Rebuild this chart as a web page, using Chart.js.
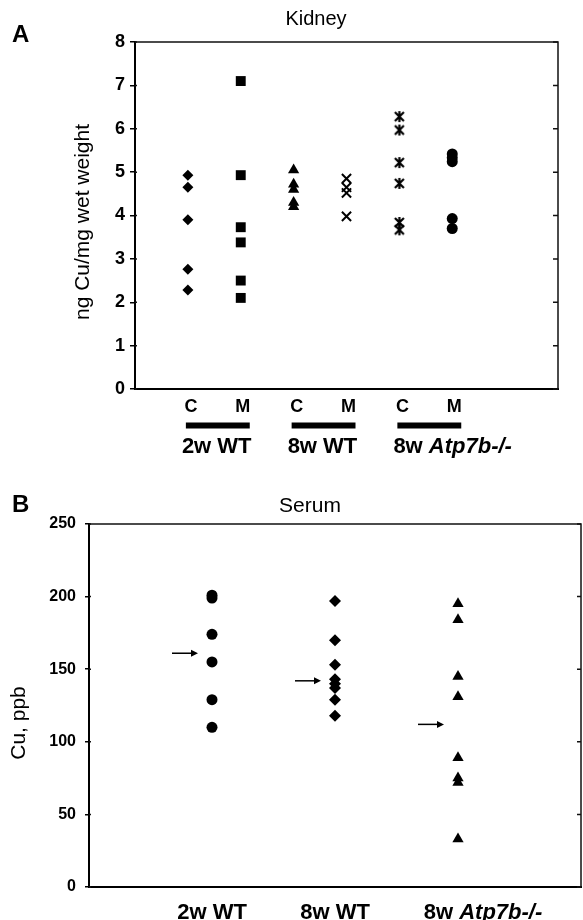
<!DOCTYPE html>
<html>
<head>
<meta charset="utf-8">
<script src="https://cdn.jsdelivr.net/npm/chart.js@4.4.0/dist/chart.umd.min.js"></script>
<style>
  html, body { margin: 0; padding: 0; background: #fff; }
  #wrap { position: relative; width: 583px; height: 920px; }
  canvas { position: absolute; left: 0; }
  #kidney { top: 0; }
  #serum { top: 470px; }
</style>
</head>
<body>
<div id="wrap">
  <canvas id="kidney" width="583" height="470"></canvas>
  <canvas id="serum" width="583" height="450"></canvas>
</div>
<script>
// === Data ===
// Panel A - kidney, ng Cu / mg wet weight
const kidneyGroups = ["2w WT", "8w WT", "8w Atp7b-/-"];
const kidneySub = ["C", "M"];
const kidneyTicks = [0, 1, 2, 3, 4, 5, 6, 7, 8];
const kid2wC = [4.93, 4.65, 3.9, 2.76, 2.28];
const kid2wM = [7.1, 4.93, 3.73, 3.38, 2.5, 2.1];
const kid8wC = [5.05, 4.72, 4.6, 4.3, 4.2];
const kid8wM = [4.85, 4.65, 4.52, 3.98];
const kidAtpC = [6.28, 5.97, 5.22, 4.74, 3.84, 3.67];
const kidAtpM = [5.42, 5.33, 5.24, 3.93, 3.7];

// Panel B - serum, Cu ppb
const serumGroups = ["2w WT", "8w WT", "8w Atp7b-/-"];
const serumTicks = [0, 50, 100, 150, 200, 250];
const ser2w = [201, 199, 174, 155, 129, 110];
const ser8w = [197, 170, 153, 143, 140, 137, 129, 118];
const serAtp = [195, 184, 145, 131, 89, 75, 72, 33];
const serArrows = [161, 142, 112];

const FONT = '"Liberation Sans", Arial, Helvetica, sans-serif';
Chart.defaults.font.family = FONT;
Chart.defaults.color = "#000";

// asterisk marker (x with a vertical bar), like the Excel star
function makeStar() {
  const c = document.createElement("canvas");
  c.width = 13; c.height = 13;
  const g = c.getContext("2d");
  g.strokeStyle = "#000";
  g.lineWidth = 2.2;
  g.beginPath();
  g.moveTo(2, 2); g.lineTo(11, 11);
  g.moveTo(11, 2); g.lineTo(2, 11);
  g.moveTo(6.5, 1); g.lineTo(6.5, 12);
  g.stroke();
  return c;
}

const pts = (vals, xv) => vals.map(v => ({ x: xv, y: v }));

function ds(vals, xv, style, r, extra) {
  return Object.assign({
    data: pts(vals, xv),
    pointStyle: style,
    pointRadius: r,
    pointHoverRadius: r,
    backgroundColor: "#000",
    borderColor: "#000",
    borderWidth: 0
  }, extra || {});
}

// top + right frame with inward ticks, and small inner stubs on the left axis
function frame(ctx, a, yScale, len) {
  ctx.strokeStyle = "#111";
  ctx.lineWidth = 1.5;
  ctx.beginPath();
  ctx.moveTo(a.left, a.top);
  ctx.lineTo(a.right, a.top);
  ctx.lineTo(a.right, a.bottom);
  ctx.stroke();
  yScale.ticks.forEach(t => {
    const py = yScale.getPixelForValue(t.value);
    ctx.beginPath();
    ctx.moveTo(a.right - len, py); ctx.lineTo(a.right, py);
    ctx.moveTo(a.left, py); ctx.lineTo(a.left + 2, py);
    ctx.stroke();
  });
}

function groupLabel(ctx, text, x, yb, align) {
  const i = text.indexOf(" ");
  const head = text.slice(0, i + 1), tail = text.slice(i + 1);
  const f1 = "bold 22px " + FONT;
  const f2 = (/Atp/.test(tail) ? "italic " : "") + "bold 22px " + FONT;
  ctx.font = f1; const w1 = ctx.measureText(head).width;
  ctx.font = f2; const w2 = ctx.measureText(tail).width;
  const x0 = align === "center" ? x - (w1 + w2) / 2 : x;
  ctx.textAlign = "left";
  ctx.textBaseline = "alphabetic";
  ctx.font = f1; ctx.fillText(head, x0, yb);
  ctx.font = f2; ctx.fillText(tail, x0 + w1, yb);
}

function rotTitle(ctx, text, cx, cy, size) {
  ctx.save();
  ctx.translate(cx, cy);
  ctx.rotate(-Math.PI / 2);
  ctx.font = size + "px " + FONT;
  ctx.textAlign = "center";
  ctx.textBaseline = "middle";
  ctx.fillText(text, 0, 0);
  ctx.restore();
}

// === Panel A decorations ===
const kidneyDeco = {
  id: "kidneyDeco",
  afterDraw(chart) {
    const { ctx, chartArea: a, scales: { x, y } } = chart;
    ctx.save();
    frame(ctx, a, y, 5);
    ctx.fillStyle = "#000";
    ctx.font = "bold 24px " + FONT;
    ctx.textAlign = "left";
    ctx.fillText("A", 12, 42);
    ctx.font = "20px " + FONT;
    ctx.textAlign = "center";
    ctx.fillText("Kidney", 316, 25);
    rotTitle(ctx, "ng Cu/mg wet weight", 83, 222, 21);

    kidneyGroups.forEach((g, gi) => {
      const xc = x.getPixelForValue(gi * 2 + 1);
      const xm = x.getPixelForValue(gi * 2 + 2);
      ctx.font = "bold 18px " + FONT;
      ctx.textAlign = "center";
      ctx.fillText(kidneySub[0], xc + 3, 412);
      ctx.fillText(kidneySub[1], xm + 2, 412);
      ctx.fillRect(xc - 2, 422.5, (xm + 9) - (xc - 2), 6);
      groupLabel(ctx, g, xc - 6, 453, "left");
    });
    ctx.restore();
  }
};

// === Panel B decorations ===
const serumDeco = {
  id: "serumDeco",
  afterDraw(chart) {
    const { ctx, chartArea: a, scales: { x, y } } = chart;
    ctx.save();
    frame(ctx, a, y, 4);
    ctx.fillStyle = "#000";
    ctx.strokeStyle = "#000";
    ctx.font = "bold 24px " + FONT;
    ctx.textAlign = "left";
    ctx.fillText("B", 12, 42);
    ctx.font = "21px " + FONT;
    ctx.textAlign = "center";
    ctx.fillText("Serum", 310, 42);
    rotTitle(ctx, "Cu, ppb", 19, 253, 21);

    serumGroups.forEach((g, gi) => {
      const px = x.getPixelForValue(gi + 1);
      groupLabel(ctx, g, px + (gi === 2 ? 25 : 0), 449, "center");
    });

    // arrows pointing at each group
    ctx.lineWidth = 1.5;
    serArrows.forEach((v, i) => {
      const py = y.getPixelForValue(v);
      const x1 = x.getPixelForValue(i + 1) - 14;
      const x0 = x1 - 26;
      ctx.beginPath();
      ctx.moveTo(x0, py); ctx.lineTo(x1 - 4, py);
      ctx.stroke();
      ctx.beginPath();
      ctx.moveTo(x1, py); ctx.lineTo(x1 - 7, py - 3.5); ctx.lineTo(x1 - 7, py + 3.5);
      ctx.closePath();
      ctx.fill();
    });
    ctx.restore();
  }
};

function yAxis(min, max, ticks, size, tl, pad, width) {
  return {
    min: min, max: max,
    afterBuildTicks(s) { s.ticks = ticks.map(v => ({ value: v })); },
    ticks: { font: { size: size, weight: "bold" }, color: "#000", padding: pad },
    grid: { drawOnChartArea: false, drawTicks: true, tickLength: tl, color: "#000", lineWidth: 1.5 },
    border: { display: true, color: "#000", width: 2 },
    afterFit(s) { s.width = width; }
  };
}

function xAxis(min, max, height) {
  return {
    type: "linear", min: min, max: max,
    ticks: { display: false },
    grid: { display: false },
    border: { display: true, color: "#000", width: 2 },
    afterFit(s) { s.height = height; }
  };
}

const baseOpts = {
  responsive: false,
  animation: false,
  devicePixelRatio: 1,
  plugins: { legend: { display: false }, tooltip: { enabled: false } }
};

const star = makeStar();

new Chart(document.getElementById("kidney").getContext("2d"), {
  type: "scatter",
  data: {
    datasets: [
      ds(kid2wC, 1, "rectRot", 5.5),
      ds(kid2wM, 2, "rect", 7),
      ds(kid8wC, 3, "triangle", 6.5),
      ds(kid8wM, 4, "crossRot", 6.5, { borderWidth: 2 }),
      ds(kidAtpC, 5, star, 6),
      ds(kidAtpM, 6, "circle", 5.5)
    ]
  },
  options: Object.assign({}, baseOpts, {
    layout: { autoPadding: false, padding: { top: 42, right: 25, left: 0, bottom: 0 } },
    scales: {
      x: xAxis(0, 8, 81),
      y: yAxis(0, 8, kidneyTicks, 18, 5, 5, 135)
    }
  }),
  plugins: [kidneyDeco]
});

new Chart(document.getElementById("serum").getContext("2d"), {
  type: "scatter",
  data: {
    datasets: [
      ds(ser2w, 1, "circle", 5.5),
      ds(ser8w, 2, "rectRot", 6),
      ds(serAtp, 3, "triangle", 6.5)
    ]
  },
  options: Object.assign({}, baseOpts, {
    layout: { autoPadding: false, padding: { top: 54, right: 2, left: 0, bottom: 0 } },
    scales: {
      x: xAxis(0, 4, 33),
      y: yAxis(0, 250, serumTicks, 16, 4, 9, 89)
    }
  }),
  plugins: [serumDeco]
});
</script>
</body>
</html>
